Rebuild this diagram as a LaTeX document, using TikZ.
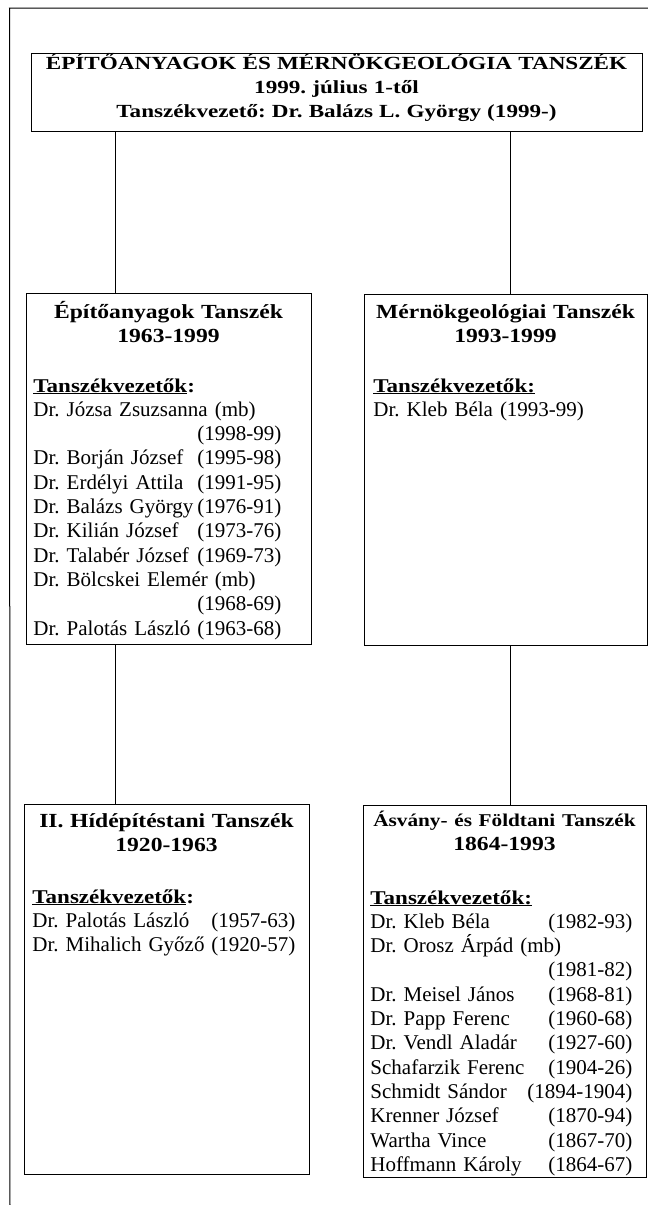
\documentclass[tikz,border=0pt]{standalone}
\usepackage{fontspec}
\setmainfont{Liberation Serif}
\newfontfamily\titlefam[FakeStretch=1.25]{Liberation Serif}
\newfontfamily\headfam[FakeStretch=1.18]{Liberation Serif}

\newcommand{\titlefont}{\fontsize{18.5}{24}\titlefam\bfseries\frenchspacing}
\newcommand{\headfont}{\fontsize{20}{24}\headfam\bfseries\frenchspacing}
\newcommand{\listfont}{\fontsize{21}{24.3}\selectfont\frenchspacing}
\newcommand{\vez}[1]{{\fontsize{19.5}{24}\headfam\bfseries #1}}

\begin{document}
\begin{tikzpicture}[x=1pt,y=-1pt, line width=0.9pt,
  tbox/.style={draw,rectangle,inner sep=0pt,anchor=north west},
  head/.style={font=\headfont,align=center,anchor=base,inner sep=0pt,text width=#1},
  list/.style={font=\listfont,align=left,anchor=base west,inner sep=0pt,text width=#1}]
              \useasboundingbox (0,0) rectangle (648,1205);
              \draw[line width=1pt] (10,1205) -- (9.5,8) -- (648,8);

              \node[tbox,minimum width=611pt,minimum height=78pt] (top) at (31,53) {};
              \node[tbox,minimum width=285pt,minimum height=351pt] (epit) at (26,293) {};
              \node[tbox,minimum width=283pt,minimum height=351pt] (merng) at (364,294) {};
              \node[tbox,minimum width=285pt,minimum height=370pt] (hid) at (24,804) {};
              \node[tbox,minimum width=283pt,minimum height=372pt] (asv) at (363,805) {};

              \node[head=605pt,font=\titlefont] (topt) at (336.5,69) {ÉPÍTŐANYAGOK ÉS MÉRNÖKGEOLÓGIA TANSZÉK\\
                1999. július 1-től\\ Tanszékvezető: Dr. Balázs L. György (1999-)};

              \node[head=280pt] (epith) at (168.5,318) {Építőanyagok Tanszék\\ 1963-1999};
              \node[list=248pt] (epitl) at (33,392) {\vez{\underline{Tanszékvezetők}:}\\
                Dr. Józsa Zsuzsanna (mb)\\ \hspace*{\fill}(1998-99)\\
                Dr. Borján József\hfill(1995-98)\\
                Dr. Erdélyi Attila\hfill(1991-95)\\
                Dr. Balázs György\hfill(1976-91)\\
                Dr. Kilián József\hfill(1973-76)\\
                Dr. Talabér József\hfill(1969-73)\\
                Dr. Bölcskei Elemér (mb)\\ \hspace*{\fill}(1968-69)\\
                Dr. Palotás László\hfill(1963-68)};

              \node[head=280pt] (mergh) at (505.5,318) {Mérnökgeológiai Tanszék\\ 1993-1999};
              \node[list=260pt] (mergl) at (373,392) {\vez{\underline{Tanszékvezetők:}}\\
                Dr. Kleb Béla (1993-99)};

              \node[head=280pt] (hidh) at (166.5,827) {II. Hídépítéstani Tanszék\\ 1920-1963};
              \node[list=263pt] (hidl) at (32,903) {\vez{\underline{Tanszékvezetők}:}\\
                Dr. Palotás László\hfill(1957-63)\\
                Dr. Mihalich Győző\hfill(1920-57)};

              \node[head=280pt] (asvh) at (504.5,826) {{\fontsize{18}{24}\selectfont Ásvány- és Földtani Tanszék}\\ 1864-1993};
              \node[list=262pt] (asvl) at (370,904) {\vez{\underline{Tanszékvezetők:}}\\
                Dr. Kleb Béla\hfill(1982-93)\\
                Dr. Orosz Árpád (mb)\\ \hspace*{\fill}(1981-82)\hspace*{12pt}\\
                Dr. Meisel János\hfill(1968-81)\\
                Dr. Papp Ferenc\hfill(1960-68)\\
                Dr. Vendl Aladár\hfill(1927-60)\\
                Schafarzik Ferenc\hfill(1904-26)\\
                Schmidt Sándor\hfill(1894-1904)\\
                Krenner József\hfill(1870-94)\\
                Wartha Vince\hfill(1867-70)\\
                Hoffmann Károly\hfill(1864-67)};

              \coordinate (jl) at (115,0);
              \coordinate (jr) at (510,0);
              \draw (jl |- top.south) -- (jl |- epit.north);
              \draw (jr |- top.south) -- (jr |- merng.north);
              \draw (jl |- epit.south) -- (jl |- hid.north);
              \draw (jr |- merng.south) -- (jr |- asv.north);
            \end{tikzpicture}
\end{document}
